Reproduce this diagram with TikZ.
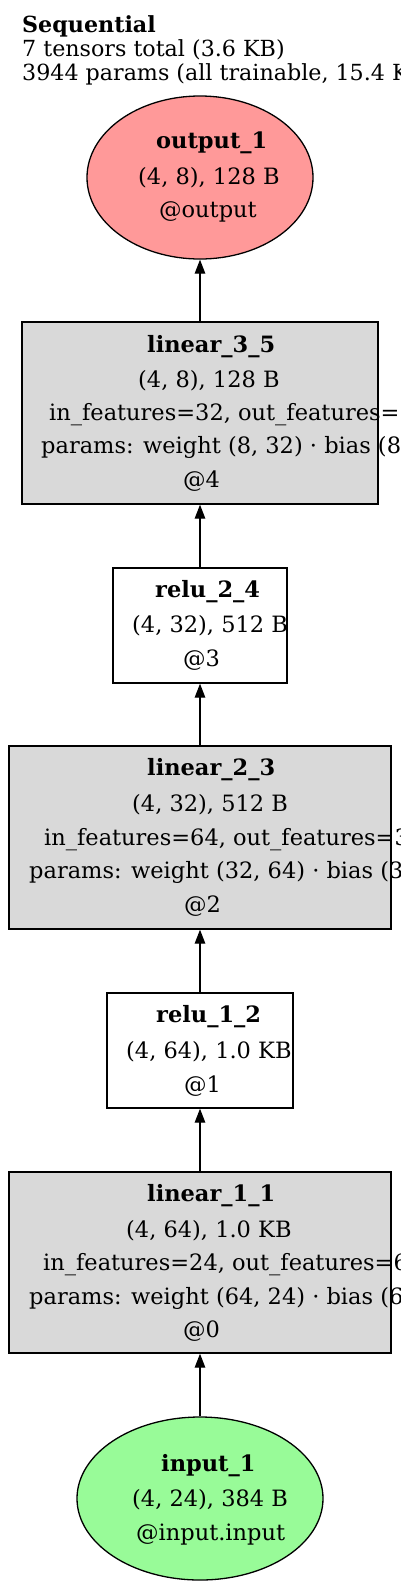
\documentclass[tikz,border=0pt]{standalone}
\usepackage{fontspec}
\setmainfont{DejaVu Serif}
\usetikzlibrary{arrows.meta, shapes.geometric}
\definecolor{outpink}{HTML}{FF9999}
\definecolor{inpgreen}{HTML}{98FB98}
\definecolor{laygray}{HTML}{D9D9D9}
\begin{document}
\begin{tikzpicture}[x=1pt, y=-1pt,
  layer/.style={draw, line width=1.3pt, fill=laygray, inner sep=0pt},
  act/.style={layer, fill=white},
  term/.style={ellipse, draw, line width=1.3pt, inner sep=0pt},
  txt/.style={anchor=base west, inner sep=0pt, font=\fontsize{22.5}{24}\selectfont},
  head/.style={txt, font=\fontsize{22.5}{24}\selectfont\bfseries},
  caption/.style={txt, font=\fontsize{22.2}{24}\selectfont},
  arrow/.style={-{Triangle[length=14pt, width=10.5pt]}, line width=1.3pt}
]
\clip (0,0) rectangle (400,1588);
\fill[white] (0,0) rectangle (400,1588);

% header
\node[caption, font=\fontsize{22.2}{24}\selectfont\bfseries] (title) at (22,32) {Sequential};
\node[caption] (tensors) at (22,56) {7 tensors total (3.6 KB)};
\node[caption] (params) at (22,80) {3944 params (all trainable, 15.4 KB)};

% shapes, top to bottom
\node[term, fill=outpink, minimum width=226pt, minimum height=163pt] (out) at (200,177.5) {};
\node[layer, minimum width=356pt, minimum height=182pt] (lin35) at (200,413) {};
\node[act, minimum width=174pt, minimum height=115pt] (relu24) at (200,625.5) {};
\node[layer, minimum width=382pt, minimum height=183pt] (lin23) at (200,837.5) {};
\node[act, minimum width=186pt, minimum height=115pt] (relu12) at (200,1050.5) {};
\node[layer, minimum width=382pt, minimum height=181pt] (lin11) at (200,1262.5) {};
\node[term, fill=inpgreen, minimum width=246pt, minimum height=163pt] (inp) at (200,1498.5) {};

% labels
\node[head] (outA) at (156,148) {output\_1};
\node[txt] (outB) at (138,184) {(4, 8), 128 B};
\node[txt] (outC) at (159,217) {@output};

\node[head] (lin35A) at (147,352) {linear\_3\_5};
\node[txt] (lin35B) at (138,387) {(4, 8), 128 B};
\node[txt] (lin35C) at (49,420) {in\_features=32, out\_features=8};
\node[txt] (lin35D) at (41,453) {params: weight (8, 32) · bias (8,)};
\node[txt] (lin35E) at (183,487) {@4};

\node[head] (relu24A) at (155,597) {relu\_2\_4};
\node[txt] (relu24B) at (132,632) {(4, 32), 512 B};
\node[txt] (relu24C) at (183,666) {@3};

\node[head] (lin23A) at (147,775) {linear\_2\_3};
\node[txt] (lin23B) at (132,811) {(4, 32), 512 B};
\node[txt] (lin23C) at (44,845) {in\_features=64, out\_features=32};
\node[txt] (lin23D) at (29,878) {params: weight (32, 64) · bias (32,)};
\node[txt] (lin23E) at (184,912) {@2};

\node[head] (relu12A) at (156,1022) {relu\_1\_2};
\node[txt] (relu12B) at (126,1058) {(4, 64), 1.0 KB};
\node[txt] (relu12C) at (184,1092) {@1};

\node[head] (lin11A) at (147,1201) {linear\_1\_1};
\node[txt] (lin11B) at (126,1237) {(4, 64), 1.0 KB};
\node[txt] (lin11C) at (43,1270) {in\_features=24, out\_features=64};
\node[txt] (lin11D) at (29,1304) {params: weight (64, 24) · bias (64,)};
\node[txt] (lin11E) at (183,1337) {@0};

\node[head] (inpA) at (161,1471) {input\_1};
\node[txt] (inpB) at (132,1506) {(4, 24), 384 B};
\node[txt] (inpC) at (136,1540) {@input.input};

\draw[arrow] (inp) -- (lin11);
\draw[arrow] (lin11) -- (relu12);
\draw[arrow] (relu12) -- (lin23);
\draw[arrow] (lin23) -- (relu24);
\draw[arrow] (relu24) -- (lin35);
\draw[arrow] (lin35) -- (out);
\end{tikzpicture}
\end{document}
